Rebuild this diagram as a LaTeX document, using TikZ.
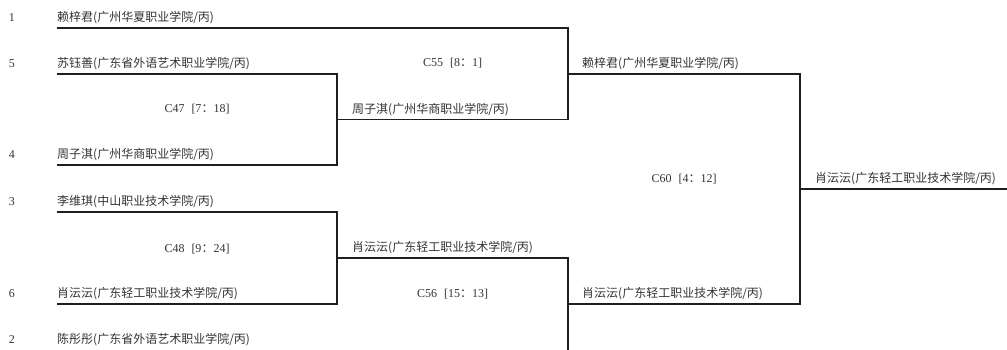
\documentclass[tikz,border=0pt]{standalone}
\usepackage{fontspec}
\setmainfont{Liberation Serif}
\newfontfamily\cjk{Noto Sans CJK SC}
\usetikzlibrary{positioning, calc}
\definecolor{brline}{HTML}{1E1E1E}
\definecolor{brtext}{HTML}{333333}
\newcommand{\matchscore}[3]{#1\hspace{7pt}[#2{\cjk ：}#3]}

\begin{document}
\begin{tikzpicture}[x=1pt, y=-1pt,
  seed/.style={font=\fontsize{12}{14}\selectfont, text=brtext, inner sep=0pt},
  entrant/.style={anchor=west, font=\cjk\fontsize{12}{14}\selectfont,
    text=brtext, inner sep=0pt},
  score/.style={font=\fontsize{12}{14}\selectfont, text=brtext, inner sep=0pt},
  wire/.style={draw=brline, line width=1.1pt}
]
  \useasboundingbox (0,0) rectangle (1007,350);
  % seeds and first-round entrants
  \node[seed] (s1) at (12,17.5)  {1};
  \node[seed] (s5) at (12,63.5)  {5};
  \node[seed] (s4) at (12,154.5) {4};
  \node[seed] (s3) at (12,201.5) {3};
  \node[seed] (s6) at (12,293.5) {6};
  \node[seed] (s2) at (12,339.5) {2};
  \node[entrant] (n1) at (57,17.5)  {赖梓君(广州华夏职业学院/丙)};
  \node[entrant] (n5) at (57,63.5)  {苏钰善(广东省外语艺术职业学院/丙)};
  \node[entrant] (n4) at (57,154.5) {周子淇(广州华商职业学院/丙)};
  \node[entrant] (n3) at (57,201.5) {李维琪(中山职业技术学院/丙)};
  \node[entrant] (n6) at (57,293.5) {肖沄沄(广东轻工职业技术学院/丙)};
  \node[entrant] (n2) at (57,339.5) {陈彤彤(广东省外语艺术职业学院/丙)};
  \foreach \i in {1,5,4,3,6}
    \coordinate (l\i) at ([yshift=-10.5pt]n\i.west);
  % bracket joints
  \coordinate (j47) at (337,119.5);
  \coordinate (j48) at (337,258);
  \coordinate (j55) at (568,74);
  \coordinate (j56) at (568,304);
  \coordinate (j60) at (800,189);
  \coordinate (tail) at (568,350);
  \coordinate (fin) at (1007,189);
  % match labels
  \node[score] (m47) at (197,109.5)   {\matchscore{C47}{7}{18}};
  \node[score] (m48) at (197,249.5)   {\matchscore{C48}{9}{24}};
  \node[score] (m55) at (452.5,63.5)  {\matchscore{C55}{8}{1}};
  \node[score] (m56) at (452.5,294.5) {\matchscore{C56}{15}{13}};
  \node[score] (m60) at (684,179.5)   {\matchscore{C60}{4}{12}};
  % winners
  \node[entrant] (w47) at (352,109.5) {周子淇(广州华商职业学院/丙)};
  \node[entrant] (w48) at (352,247.5) {肖沄沄(广东轻工职业技术学院/丙)};
  \node[entrant] (w55) at (582,63.5)  {赖梓君(广州华夏职业学院/丙)};
  \node[entrant] (w56) at (582,293.5) {肖沄沄(广东轻工职业技术学院/丙)};
  \node[entrant] (w60) at (815,178.5) {肖沄沄(广东轻工职业技术学院/丙)};
  % lines
  \draw[wire] (l5) -| (j47) |- (l4);
  \draw[wire] (l3) -| (j48) |- (l6);
  \draw[wire] (l1) -| (j55) |- (j47);
  \draw[wire] (j48) -| (j56) -- (tail);
  \draw[wire] (j55) -| (j60) |- (j56);
  \draw[wire] (j60) -- (fin);
\end{tikzpicture}
\end{document}
